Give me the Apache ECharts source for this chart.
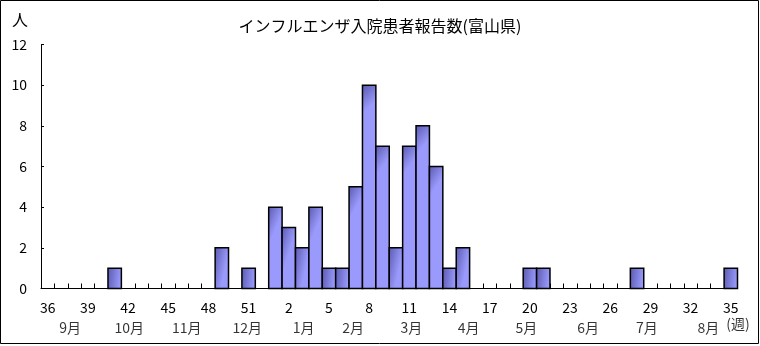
<!DOCTYPE html>
<html>
<head>
<meta charset="utf-8">
<script src="https://cdn.jsdelivr.net/npm/echarts@6/dist/echarts.min.js"></script>
<style>
  html, body { margin: 0; padding: 0; background: #fff; }
  #chart { width: 760px; height: 346px; }
</style>
</head>
<body>
<div id="chart"></div>
<script>
// Weekly counts, week 36 through week 35 of the following year
const weeks = [36, 37, 38, 39, 40, 41, 42, 43, 44, 45, 46, 47, 48, 49, 50, 51, 52,
  1, 2, 3, 4, 5, 6, 7, 8, 9, 10, 11, 12, 13, 14, 15, 16, 17, 18, 19, 20,
  21, 22, 23, 24, 25, 26, 27, 28, 29, 30, 31, 32, 33, 34, 35];
const patients = [0, 0, 0, 0, 0, 1, 0, 0, 0, 0, 0, 0, 0, 2, 0, 1, 0,
  4, 3, 2, 4, 1, 1, 5, 10, 7, 2, 7, 8, 6, 1, 2, 0, 0, 0, 0, 1,
  1, 0, 0, 0, 0, 0, 0, 1, 0, 0, 0, 0, 0, 0, 1];
// Month captions under the week axis, placed in week units from the left edge
const monthNames = ['9月', '10月', '11月', '12月', '1月', '2月', '3月', '4月', '5月', '6月', '7月', '8月'];
const monthPos = [2.17, 6.59, 10.88, 15.4, 19.6, 23.3, 27.65, 31.93, 36.24, 40.84, 45.23, 49.83];
const yTicks = { min: 0, max: 12, step: 2 };

const FONT = '"Noto Sans CJK JP", "Noto Sans", sans-serif';

const chart = echarts.init(document.getElementById('chart'), null, { renderer: 'canvas' });

const monthData = monthNames.map((m, i) => ({ value: [monthPos[i], 0], name: m }));
const barData = patients.map((v, i) => [i, v]);

const barFill = new echarts.graphic.LinearGradient(0, 0, 1, 0.08, [
  { offset: 0, color: '#5858ae' },
  { offset: 1, color: '#9a9afc' }
]);

// Each week is a rectangle spanning its full band on the category axis
function renderWeekBar(params, api) {
  const v = api.value(1);
  if (!v) return null;
  const top = api.coord([api.value(0), v]);
  const base = api.coord([api.value(0), 0]);
  const band = api.size([1, 0])[0];
  return {
    type: 'rect',
    shape: { x: top[0] - band / 2, y: top[1], width: band, height: base[1] - top[1] },
    style: { fill: barFill, stroke: '#000', lineWidth: 1.5 }
  };
}

chart.setOption({
  animation: false,
  backgroundColor: '#ffffff',
  title: [
    {
      text: 'インフルエンザ入院患者報告数(富山県)',
      left: 'center', top: 18, padding: 0,
      textStyle: { fontFamily: FONT, fontSize: 16, fontWeight: 'normal', color: '#000' }
    },
    {
      text: '人',
      left: 12, top: 12, padding: 0,
      textStyle: { fontFamily: FONT, fontSize: 16, fontWeight: 'normal', color: '#000' }
    }
  ],
  grid: { left: 41, right: 22.5, top: 44.5, bottom: 57.5, containLabel: false },
  xAxis: [
    {
      type: 'category',
      data: weeks,
      boundaryGap: true,
      axisLine: { lineStyle: { color: '#000', width: 1 } },
      axisTick: { show: true, inside: true, length: 5, interval: 0, lineStyle: { color: '#000' } },
      axisLabel: { interval: 2, margin: 12, color: '#000', fontFamily: FONT, fontSize: 14 },
      splitLine: { show: false }
    },
    {
      type: 'value', min: 0, max: 52, show: false
    }
  ],
  yAxis: {
    type: 'value',
    min: yTicks.min, max: yTicks.max, interval: yTicks.step,
    axisLine: { show: true, lineStyle: { color: '#000', width: 1 } },
    axisTick: { show: true, inside: true, length: 3, lineStyle: { color: '#000' } },
    axisLabel: { margin: 14, color: '#000', fontFamily: FONT, fontSize: 14 },
    splitLine: { show: false }
  },
  series: [
    {
      type: 'custom',
      data: barData,
      encode: { x: 0, y: 1 },
      renderItem: renderWeekBar,
      clip: false
    },
    {
      type: 'scatter',
      xAxisIndex: 1,
      data: monthData,
      symbolSize: 0,
      silent: true,
      clip: false,
      label: {
        show: true, position: 'inside', offset: [0, 39],
        formatter: p => p.name,
        color: '#000', fontFamily: FONT, fontSize: 14
      }
    },
    {
      type: 'scatter',
      xAxisIndex: 1,
      data: [{ value: [52.04, 0], name: '(週)' }],
      symbolSize: 0,
      silent: true,
      clip: false,
      label: {
        show: true, position: 'inside', offset: [0, 35],
        formatter: p => p.name,
        color: '#000', fontFamily: FONT, fontSize: 14
      }
    }
  ],
  graphic: [
    {
      type: 'rect',
      shape: { x: 0.5, y: 0.5, width: 758, height: 343 },
      style: { fill: 'none', stroke: '#000', lineWidth: 1 },
      silent: true
    }
  ]
});
</script>
</body>
</html>
